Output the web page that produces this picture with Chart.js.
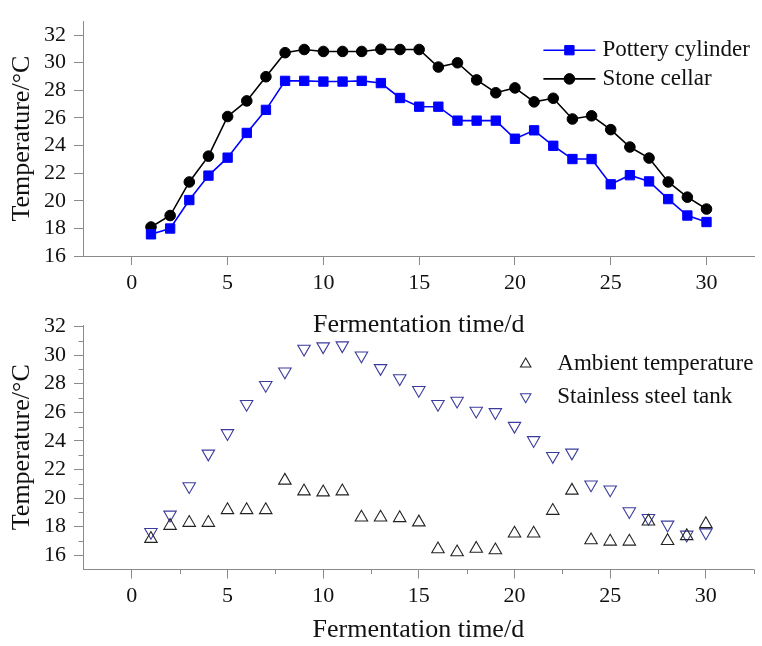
<!DOCTYPE html>
<html><head><meta charset="utf-8">
<script src="https://cdn.jsdelivr.net/npm/chart.js@4/dist/chart.umd.min.js"></script>
<style>
html,body{margin:0;padding:0;background:#fff;}
#wrap{position:relative;width:762px;height:646px;overflow:hidden;background:#fff;}
canvas{position:absolute;left:0;}
#c1{top:0;}
#c2{top:300px;}
</style></head><body>
<div id="wrap">
<canvas id="c1" width="762" height="342"></canvas>
<canvas id="c2" width="762" height="346"></canvas>
</div>
<script>
// ---- data ----
const days = [1,2,3,4,5,6,7,8,9,10,11,12,13,14,15,16,17,18,19,20,21,22,23,24,25,26,27,28,29,30];
const potteryCylinder = [17.57,17.99,20.05,21.82,23.12,24.91,26.58,28.68,28.68,28.63,28.63,28.68,28.52,27.44,26.81,26.81,25.80,25.80,25.80,24.49,25.10,23.98,23.02,23.02,21.19,21.85,21.40,20.12,18.93,18.46];
const stoneCellar = [18.10,18.93,21.36,23.23,26.10,27.23,28.98,30.72,30.95,30.81,30.81,30.81,30.97,30.95,30.95,29.68,29.99,28.75,27.82,28.17,27.16,27.42,25.92,26.15,25.15,23.89,23.09,21.36,20.26,19.40];
const ambientTemp = [17.15,18.06,18.27,18.27,19.16,19.16,19.16,21.22,20.47,20.40,20.47,18.64,18.64,18.60,18.30,16.42,16.21,16.46,16.35,17.52,17.52,19.11,20.52,17.05,16.96,16.96,18.36,17.00,17.34,18.18];
const stainlessTank = [17.62,18.83,20.82,23.10,24.53,26.57,27.90,28.84,30.43,30.60,30.67,29.96,29.08,28.37,27.55,26.57,26.80,26.10,26.00,25.04,24.04,22.93,23.17,20.94,20.59,19.07,18.60,18.13,17.43,17.59];
const xTicks = [0,5,10,15,20,25,30];
const yTicks = [16,18,20,22,24,26,28,30,32];
const xMinorTicks = [2.5,7.5,12.5,17.5,22.5,27.5,32.5];
const yMinorTicks = [17,19,21,23,25,27,29,31];
const xTitle = 'Fermentation time/d';
const yTitle = 'Temperature/°C';
const seriesLabels = ['Pottery cylinder','Stone cellar','Ambient temperature','Stainless steel tank'];

// ---- styling ----
const FONT = "'Liberation Serif','Times New Roman',serif";
const AXIS = '#8a8a8a';
const TXT = '#111';

function pts(vals){ return days.map((d,i)=>({x:d,y:vals[i]})); }

function drawMarker(ctx, style, x, y, r, rot, fill, stroke, bw){
  ctx.beginPath();
  if (style === 'circle') { ctx.arc(x, y, r, 0, Math.PI*2); }
  else if (style === 'rect') { const s = r*Math.SQRT1_2; ctx.rect(x-s, y-s, 2*s, 2*s); }
  else if (style === 'triangle') {
    let a = (rot||0)*Math.PI/180;
    ctx.moveTo(x+Math.sin(a)*r, y-Math.cos(a)*r);
    a += 2*Math.PI/3; ctx.lineTo(x+Math.sin(a)*r, y-Math.cos(a)*r);
    a += 2*Math.PI/3; ctx.lineTo(x+Math.sin(a)*r, y-Math.cos(a)*r);
    ctx.closePath();
  }
  if (fill && fill !== 'transparent') { ctx.fillStyle = fill; ctx.fill(); }
  ctx.lineWidth = bw; ctx.strokeStyle = stroke; ctx.stroke();
}

const legendPlugin = {
  id: 'lineLegend',
  afterDraw(chart, args, o){
    if (!o || !o.rowY) return;
    const {ctx, chartArea} = chart;
    ctx.save();
    ctx.font = o.fontSize + 'px ' + FONT;
    ctx.textBaseline = 'middle'; ctx.textAlign = 'left';
    chart.data.datasets.forEach((ds, i) => {
      const y = chartArea.top + o.rowY[i];
      const x0 = chartArea.right - o.fromRight;
      if (o.showLine) {
        ctx.beginPath(); ctx.strokeStyle = ds.borderColor; ctx.lineWidth = ds.borderWidth;
        ctx.moveTo(x0, y); ctx.lineTo(x0 + o.lineLen, y); ctx.stroke();
      }
      drawMarker(ctx, ds.pointStyle, x0 + o.markerX, y, o.markerR || ds.pointRadius, ds.pointRotation || 0,
        ds.pointBackgroundColor, ds.pointBorderColor, ds.pointBorderWidth);
      ctx.fillStyle = TXT;
      ctx.fillText(ds.label, x0 + o.textX, y);
    });
    ctx.restore();
  }
};

const minorPlugin = {
  id: 'minorTicks',
  afterDraw(chart, args, o){
    if (!o || !o.x) return;
    const {ctx, scales} = chart;
    const xs = scales.x, ys = scales.y;
    ctx.save(); ctx.strokeStyle = AXIS; ctx.lineWidth = 1;
    ctx.beginPath();
    o.x.forEach(v => { const p = Math.round(xs.getPixelForValue(v)) + 0.5; ctx.moveTo(p, xs.top); ctx.lineTo(p, xs.top + o.len); });
    o.y.forEach(v => { const p = Math.round(ys.getPixelForValue(v)) + 0.5; ctx.moveTo(ys.right, p); ctx.lineTo(ys.right - o.len, p); });
    ctx.stroke(); ctx.restore();
  }
};

function scalesCfg(yMin, yMax, xAxisH, titlePadBottom){
  return {
    x: {
      type: 'linear', min: -2.55, max: 32.5,
      afterBuildTicks: s => { s.ticks = xTicks.map(v => ({value: v})); },
      afterFit: s => { s.height = xAxisH; },
      grid: {drawOnChartArea: false, drawTicks: true, tickLength: 9, tickColor: AXIS, tickWidth: 1},
      border: {color: AXIS, width: 1},
      ticks: {font: {family: FONT, size: 22}, color: TXT, padding: 5, maxRotation: 0, autoSkip: false},
      title: {display: true, text: xTitle, font: {family: FONT, size: 26}, color: TXT, padding: {top: 0, bottom: titlePadBottom}}
    },
    y: {
      type: 'linear', min: yMin, max: yMax,
      afterBuildTicks: s => { s.ticks = yTicks.map(v => ({value: v})); },
      afterFit: s => { s.width = 83; },
      grid: {drawOnChartArea: false, drawTicks: true, tickLength: 9, tickColor: AXIS, tickWidth: 1},
      border: {color: AXIS, width: 1},
      ticks: {font: {family: FONT, size: 22}, color: TXT, padding: 8, autoSkip: false},
      title: {display: true, text: yTitle, font: {family: FONT, size: 26}, color: TXT, padding: {top: 7, bottom: 0}}
    }
  };
}

new Chart(document.getElementById('c1'), {
  type: 'line',
  data: {
    datasets: [
      {label: seriesLabels[0], data: pts(potteryCylinder), borderColor: '#0000ff', backgroundColor: '#0000ff',
       borderWidth: 1.6, pointStyle: 'rect', pointRadius: 6.6, pointHoverRadius: 6.6,
       pointBackgroundColor: '#0000ff', pointBorderColor: '#0000ff', pointBorderWidth: 1, tension: 0},
      {label: seriesLabels[1], data: pts(stoneCellar), borderColor: '#000000', backgroundColor: '#000000',
       borderWidth: 1.6, pointStyle: 'circle', pointRadius: 5.3, pointHoverRadius: 5.3,
       pointBackgroundColor: '#000000', pointBorderColor: '#000000', pointBorderWidth: 1, tension: 0}
    ]
  },
  options: {
    responsive: false, animation: false, devicePixelRatio: 1,
    layout: {padding: {top: 15, right: 2, left: 0, bottom: 0}},
    scales: scalesCfg(16, 33, 86, 1),
    plugins: {
      legend: {display: false}, tooltip: {enabled: false},
      lineLegend: {showLine: true, fromRight: 211, lineLen: 52, markerX: 26, textX: 59, rowY: [29, 57.7], fontSize: 23}
    }
  },
  plugins: [legendPlugin]
});

new Chart(document.getElementById('c2'), {
  type: 'line',
  data: {
    datasets: [
      {label: seriesLabels[2], data: pts(ambientTemp), showLine: false, borderColor: '#222222',
       pointStyle: 'triangle', pointRadius: 7.2, pointHoverRadius: 7.2, pointRotation: 0,
       pointBackgroundColor: 'transparent', pointBorderColor: '#222222', pointBorderWidth: 1.1, borderWidth: 1.1},
      {label: seriesLabels[3], data: pts(stainlessTank), showLine: false, borderColor: '#3c3c9e',
       pointStyle: 'triangle', pointRadius: 7.2, pointHoverRadius: 7.2, pointRotation: 180,
       pointBackgroundColor: 'transparent', pointBorderColor: '#3c3c9e', pointBorderWidth: 1.1, borderWidth: 1.1}
    ]
  },
  options: {
    responsive: false, animation: false, devicePixelRatio: 1,
    layout: {padding: {top: 25, right: 2, left: 0, bottom: 0}},
    scales: scalesCfg(15, 32.1, 76.5, 0.5),
    plugins: {
      legend: {display: false}, tooltip: {enabled: false},
      lineLegend: {showLine: false, fromRight: 228, markerX: 0, markerR: 6, textX: 31.6, rowY: [39, 71.7], fontSize: 23},
      minorTicks: {x: xMinorTicks, y: yMinorTicks, len: 4.5}
    }
  },
  plugins: [legendPlugin, minorPlugin]
});
</script>
</body></html>
